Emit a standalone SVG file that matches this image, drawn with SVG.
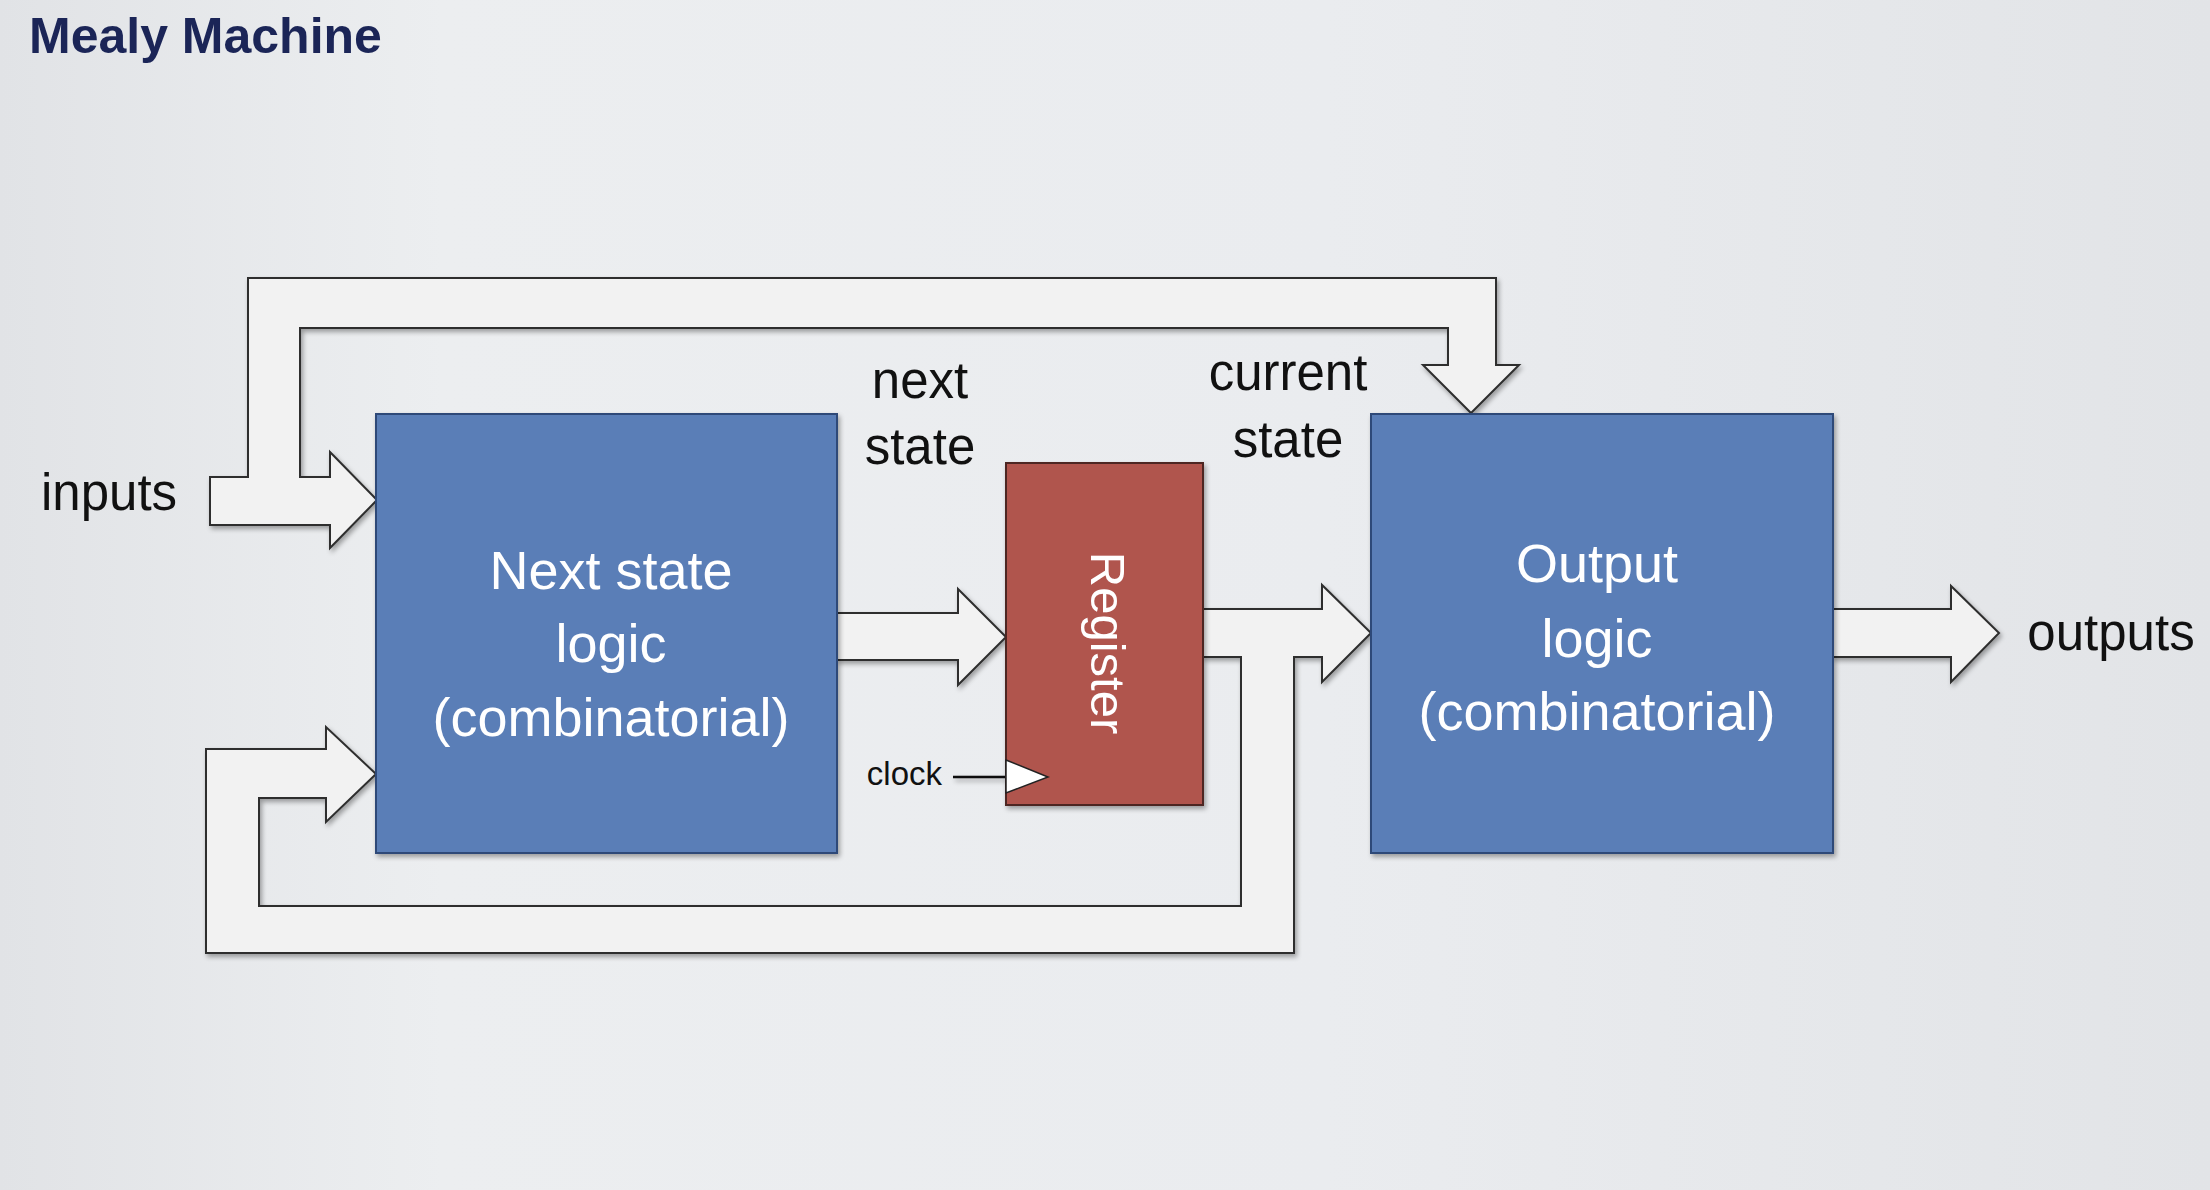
<svg xmlns="http://www.w3.org/2000/svg" width="2210" height="1190" viewBox="0 0 2210 1190">
  <defs>
    <linearGradient id="bg" x1="0" y1="0" x2="1" y2="0">
      <stop offset="0" stop-color="#e1e3e6"/>
      <stop offset="0.2" stop-color="#eceef0"/>
      <stop offset="0.6" stop-color="#eaecef"/>
      <stop offset="1" stop-color="#e2e4e7"/>
    </linearGradient>
    <filter id="shadow" x="-5%" y="-5%" width="110%" height="110%">
      <feGaussianBlur in="SourceAlpha" stdDeviation="2.5"/>
      <feOffset dx="2" dy="3" result="b"/>
      <feComponentTransfer><feFuncA type="linear" slope="0.35"/></feComponentTransfer>
      <feMerge><feMergeNode/><feMergeNode in="SourceGraphic"/></feMerge>
    </filter>
    <style>
      .arrow { fill: #f2f2f2; stroke: #2e2e2e; stroke-width: 2; stroke-linejoin: miter; }
      .blue { fill: #5a7eb7; stroke: #2f4a78; stroke-width: 2; }
      .red { fill: #b0544e; stroke: #4e2624; stroke-width: 2; }
      .lbl { font-family: "Liberation Sans", Arial, sans-serif; font-size: 51px; fill: #111111; text-anchor: middle; }
      .box { font-family: "Liberation Sans", Arial, sans-serif; font-size: 54px; fill: #ffffff; text-anchor: middle; }
      .title { font-family: "Liberation Sans", Arial, sans-serif; font-weight: bold; font-size: 50px; fill: #1b2557; }
    </style>
  </defs>

  <rect x="0" y="0" width="2210" height="1190" fill="url(#bg)"/>

  <text class="title" x="29" y="53">Mealy Machine</text>

  <g id="connectors" filter="url(#shadow)">
    <!-- inputs: to next state logic and over the top to output logic -->
    <path class="arrow" d="M210,477 L248,477 L248,278 L1496,278 L1496,365 L1519,365 L1471,413 L1423,365 L1448,365 L1448,328 L300,328 L300,477 L330,477 L330,452 L377,500 L330,548 L330,525 L210,525 Z"/>
    <!-- next state -> register -->
    <path class="arrow" d="M837,613 L958,613 L958,589 L1006,637 L958,685 L958,660 L837,660 Z"/>
    <!-- current state -> output logic, and feedback to next state logic -->
    <path class="arrow" d="M1203,609 L1322,609 L1322,585 L1371,633 L1322,682 L1322,657 L1294,657 L1294,953 L206,953 L206,749 L326,749 L326,727 L376,774 L326,822 L326,798 L259,798 L259,906 L1241,906 L1241,657 L1203,657 Z"/>
    <!-- outputs -->
    <path class="arrow" d="M1833,609 L1951,609 L1951,586 L1999,633 L1951,682 L1951,657 L1833,657 Z"/>
    <!-- clock -->
    <line x1="953" y1="777" x2="1006" y2="777" stroke="#111" stroke-width="2.5"/>
  </g>

  <g id="next-state-logic" filter="url(#shadow)">
    <rect class="blue" x="376" y="414" width="461" height="439"/>
    <text class="box" x="611" y="589">Next state</text>
    <text class="box" x="611" y="662">logic</text>
    <text class="box" x="611" y="736">(combinatorial)</text>
  </g>

  <g id="register" filter="url(#shadow)">
    <rect class="red" x="1006" y="463" width="197" height="342"/>
    <text class="box" transform="translate(1091,643) rotate(90)" x="0" y="0" style="font-size:49px">Register</text>
    <path d="M1006,760 L1048,777 L1006,793 Z" fill="#ffffff" stroke="#222" stroke-width="1.5"/>
  </g>

  <g id="output-logic" filter="url(#shadow)">
    <rect class="blue" x="1371" y="414" width="462" height="439"/>
    <text class="box" x="1597" y="582">Output</text>
    <text class="box" x="1597" y="657">logic</text>
    <text class="box" x="1597" y="730">(combinatorial)</text>
  </g>

  <g id="labels">
    <text class="lbl" x="109" y="510">inputs</text>
    <text class="lbl" x="920" y="398">next</text>
    <text class="lbl" x="920" y="464">state</text>
    <text class="lbl" x="1288" y="390">current</text>
    <text class="lbl" x="1288" y="457">state</text>
    <text class="lbl" x="2111" y="650">outputs</text>
    <text class="lbl" x="942" y="785" style="font-size:33px;text-anchor:end">clock</text>
  </g>
</svg>
